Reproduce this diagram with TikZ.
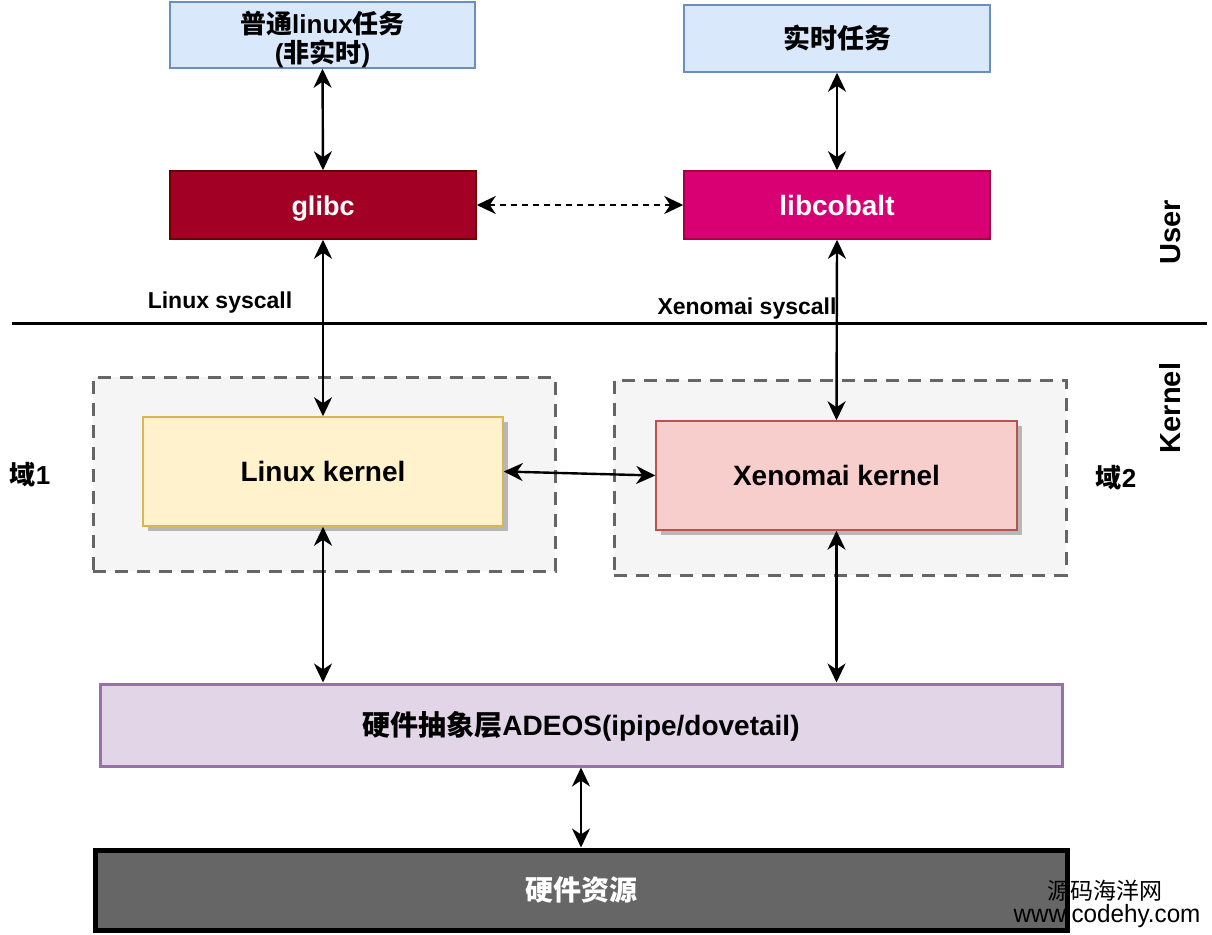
\documentclass[tikz,border=0pt]{standalone}
\usepackage{fontspec}
\setmainfont{Liberation Sans}
\newfontfamily\cjk{Noto Sans CJK SC}
\newcommand\zh[1]{{\cjk #1}}
\newcommand\fs[1]{\fontsize{#1}{#1}\selectfont}
\usetikzlibrary{arrows.meta,shadows}
\definecolor{bluefill}{HTML}{DAE8FC}
\definecolor{blueline}{HTML}{6C8EBF}
\definecolor{glibcfill}{HTML}{A20025}
\definecolor{glibcline}{HTML}{6F0000}
\definecolor{cobaltfill}{HTML}{D80073}
\definecolor{cobaltline}{HTML}{A50040}
\definecolor{domfill}{HTML}{F5F5F5}
\definecolor{domline}{HTML}{666666}
\definecolor{lkfill}{HTML}{FFF2CC}
\definecolor{lkline}{HTML}{D6B656}
\definecolor{xkfill}{HTML}{F8CECC}
\definecolor{xkline}{HTML}{B85450}
\definecolor{adfill}{HTML}{E1D5E7}
\definecolor{adline}{HTML}{9673A6}
\definecolor{hwfill}{HTML}{666666}
\tikzset{
  boxnode/.style={draw, rectangle, inner sep=0pt, line width=1.5pt, align=center, font=\fs{27}\bfseries, text height=20pt, text depth=0pt},
  taskbox/.style={boxnode, fill=bluefill, draw=blueline},
  domainbox/.style={rectangle, inner sep=0pt, fill=domfill, draw=domline, line width=3pt, dash pattern=on 13pt off 9pt},
  kernbox/.style={boxnode, font=\fs{28}\bfseries, drop shadow={shadow xshift=5pt, shadow yshift=-5pt, fill=black, opacity=0.25}},
  biarrow/.style={{Stealth[length=19pt,width=18pt,inset=6pt]}-{Stealth[length=19pt,width=18pt,inset=6pt]}, line width=2.4pt},
  lbl/.style={inner sep=0pt, font=\fs{23}\bfseries, text height=16.5pt, text depth=0pt},
  sidelbl/.style={inner sep=0pt, font=\fs{29}\bfseries, text height=21pt, text depth=0pt},
  wmark/.style={inner sep=0pt, anchor=base}
}
\begin{document}
\begin{tikzpicture}[x=1pt,y=-1pt]
\useasboundingbox (0,0) rectangle (1212,934);
\fill[white] (0,0) rectangle (1212,934);
% domains
\node[domainbox, minimum width=462pt, minimum height=194pt] (dom1) at (324,474) {};
\node[domainbox, minimum width=452pt, minimum height=195pt] (dom2) at (840,477.5) {};
% task boxes
\node[taskbox, minimum width=305pt, minimum height=66pt] (tl) at (322.5,35) {};
\node[inner sep=0pt, align=center, font=\fs{26}\bfseries] (tltxt) at (322.5,40) {\zh{普通}linux\zh{任务}\\[3pt](\zh{非实时})};
\node[taskbox, minimum width=306pt, minimum height=67pt] (tr) at (837,38.5) {\zh{实时任务}};
% libraries
\node[boxnode, fill=glibcfill, draw=glibcline, text=white, minimum width=306pt, minimum height=68pt] (glibc) at (323,205) {glibc};
\node[boxnode, fill=cobaltfill, draw=cobaltline, text=white, minimum width=306pt, minimum height=68pt, font=\fs{28}\bfseries] (libc) at (837,205) {libcobalt};
% kernels
\node[kernbox, fill=lkfill, draw=lkline, minimum width=360pt, minimum height=109pt] (lk) at (323,471.5) {Linux kernel};
\node[kernbox, fill=xkfill, draw=xkline, minimum width=361pt, minimum height=109pt] (xk) at (836.5,475.5) {Xenomai kernel};
% ADEOS and hardware
\node[boxnode, fill=adfill, draw=adline, line width=3pt, minimum width=962pt, minimum height=82pt, font=\fs{28}\bfseries] (adeos) at (581,725) {\zh{硬件抽象层}ADEOS(ipipe/dovetail)};
\node[boxnode, fill=hwfill, draw=black, line width=5pt, text=white, minimum width=972pt, minimum height=80pt, font=\fs{28}\bfseries] (hw) at (581,890) {\zh{硬件资源}};
% separator
\coordinate (sepL) at (12,323);
\coordinate (sepR) at (1207,323);
\draw[line width=3pt] (sepL) -- (sepR);
% labels
\node[lbl] (lsys) at (220,300) {Linux syscall};
\node[lbl] (xsys) at (747,306) {Xenomai syscall};
\node[sidelbl, rotate=90] (user) at (1170,232) {User};
\node[sidelbl, rotate=90] (kern) at (1170,408) {Kernel};
\node[lbl, font=\fs{26}\bfseries, text height=19pt] (d1) at (30,475) {\zh{域}1};
\node[lbl, font=\fs{26}\bfseries, text height=19pt] (d2) at (1116,478) {\zh{域}2};
% connectors
\draw[biarrow] (tl.south) -- (glibc.north);
\draw[biarrow] (tr.south) -- (libc.north);
\draw[biarrow, dash pattern=on 6pt off 5pt] (glibc.east) -- (libc.west);
\draw[biarrow] (glibc.south) -- (lk.north);
\draw[biarrow] (libc.south) -- (xk.north);
\draw[biarrow] (lk.east) -- (xk.west);
\draw[biarrow] (lk.south) -- (lk.south |- adeos.north);
\draw[biarrow] (xk.south) -- (xk.south |- adeos.north);
\draw[biarrow] (adeos.south) -- (hw.north);
% watermark
\node[wmark, font=\fs{23}] (wm1) at (1105,899) {\zh{源码海洋网}};
\node[wmark, font=\fs{25}, xscale=0.97] (wm2) at (1107,922) {www.codehy.com};
\end{tikzpicture}
\end{document}
